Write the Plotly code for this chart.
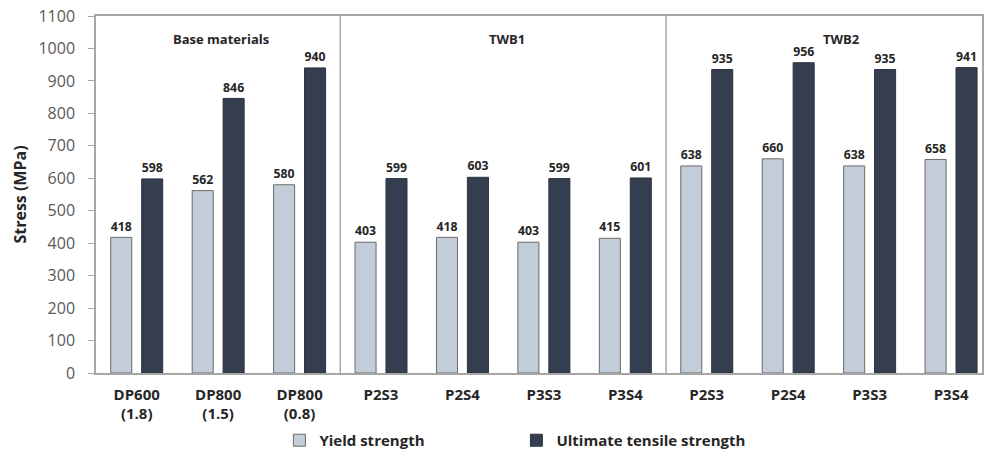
import plotly.graph_objects as go

categories = ["DP600<br>(1.8)", "DP800<br>(1.5)", "DP800<br>(0.8)",
              "P2S3", "P2S4", "P3S3", "P3S4",
              "P2S3", "P2S4", "P3S3", "P3S4"]
yield_strength = [418, 562, 580, 403, 418, 403, 415, 638, 660, 638, 658]
uts = [598, 846, 940, 599, 603, 599, 601, 935, 956, 935, 941]
group_titles = ["Base materials", "TWB1", "TWB2"]
group_title_pos = [1.03, 4.55, 8.65]
separators = [2.5, 6.5]
yticks = list(range(0, 1101, 100))

idx = list(range(len(categories)))
FONT = "Open Sans"

fig = go.Figure()
fig.add_trace(go.Bar(
    x=idx, y=yield_strength, name="Yield strength",
    marker=dict(color="#c3ccd9", line=dict(color="#6b6b6b", width=1)),
    text=yield_strength, textposition="outside", cliponaxis=False,
    textfont=dict(family=FONT, size=16, color="#262626", weight="bold"),
))
fig.add_trace(go.Bar(
    x=idx, y=uts, name="Ultimate tensile strength",
    marker=dict(color="#353e4f", line=dict(color="#2b3240", width=1)),
    text=uts, textposition="outside", cliponaxis=False,
    textfont=dict(family=FONT, size=16, color="#262626", weight="bold"),
))

for s in separators:
    fig.add_shape(type="line", x0=s, x1=s, y0=0, y1=1100, xref="x", yref="y",
                  line=dict(color="#a6a6a6", width=1.5), layer="below")

for t, p in zip(group_titles, group_title_pos):
    fig.add_annotation(x=p, y=0.967, xref="x", yref="paper", text="<b>%s</b>" % t,
                       showarrow=False, font=dict(family=FONT, size=13, color="#262626"))

fig.update_layout(
    width=984, height=457,
    margin=dict(l=96, r=0, t=16, b=81),
    plot_bgcolor="white", paper_bgcolor="white",
    barmode="group", bargap=0.24, bargroupgap=0.32,
    showlegend=True,
    legend=dict(orientation="h", x=0.207, xanchor="left", y=-0.189, yanchor="middle",
                font=dict(family=FONT, size=15, color="#262626", weight="bold"),
                entrywidth=192, traceorder="normal"),
    xaxis=dict(tickmode="array", tickvals=idx, ticktext=categories,
               range=[-0.5, 10.38], showgrid=False, zeroline=False,
               showline=True, linecolor="#a6a6a6", linewidth=1.5, mirror=True,
               ticklabelstandoff=7,
               tickfont=dict(family=FONT, size=15, color="#262626", weight="bold")),
    yaxis=dict(range=[0, 1100], tickmode="array", tickvals=yticks,
               showgrid=False, zeroline=False,
               showline=True, linecolor="#a6a6a6", linewidth=1.5, mirror=True,
               ticks="outside", ticklen=6, tickcolor="#a6a6a6",
               ticklabelstandoff=10,
               tickfont=dict(family=FONT, size=16, color="#595959"),
               title=dict(text="<b>Stress (MPa)</b>", standoff=8,
                          font=dict(family=FONT, size=16, color="#262626"))),
)

fig.write_html("out.html", config={"displayModeBar": False})
with open("out.html", "r", encoding="utf-8") as f:
    html = f.read()
html = html.replace("<head>", "<head><style>html,body{margin:0;padding:0;overflow:hidden;}</style>", 1)
with open("out.html", "w", encoding="utf-8") as f:
    f.write(html)
